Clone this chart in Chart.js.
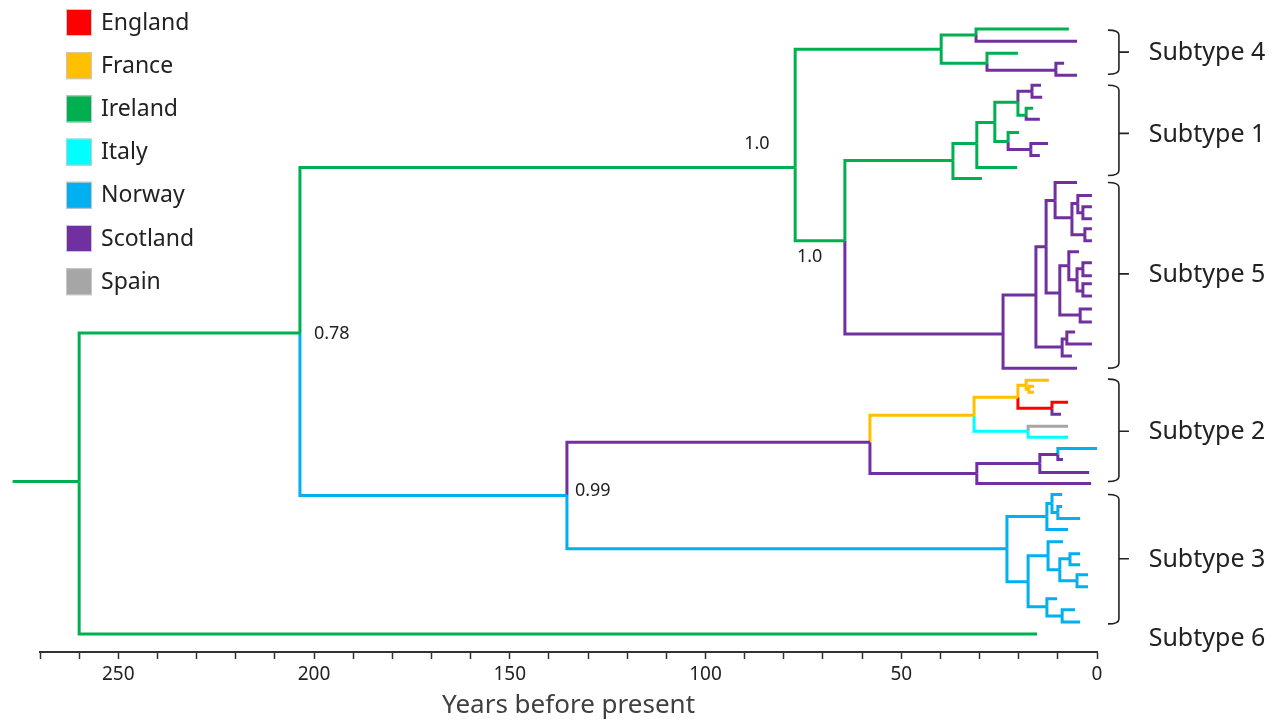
<!DOCTYPE html>
<html>
<head>
<meta charset="utf-8">
<script src="https://cdn.jsdelivr.net/npm/chart.js@4/dist/chart.umd.min.js"></script>
<style>
  html, body { margin: 0; padding: 0; background: #fff; }
  #wrap { width: 1279px; height: 721px; position: relative; }
</style>
</head>
<body>
<div id="wrap"><canvas id="tree"></canvas></div>
<script>
// countries and their colours (legend order)
const countries = ['England', 'France', 'Ireland', 'Italy', 'Norway', 'Scotland', 'Spain'];
const countryColors = ['#ff0000', '#ffc000', '#00b050', '#00ffff', '#00b0f0', '#7030a0', '#a6a6a6'];

// tree nodes: [id, parent, years before present, row, country]
const backbone = [
  ['origin', null, 277, 480, 'Ireland'],
  ['root', 'origin', 260, 480, 'Ireland'],
  ['n078', 'root', 203.6, 332, 'Ireland'],
  ['sub6', 'root', 15.3, 632, 'Ireland'],
  ['n10a', 'n078', 77.1, 167, 'Ireland'],
  ['n099', 'n078', 135.4, 494, 'Norway'],
  ['s4', 'n10a', 39.8, 49, 'Ireland'],
  ['n10b', 'n10a', 64.4, 240, 'Ireland'],
  ['s1', 'n10b', 36.8, 160, 'Ireland'],
  ['s5', 'n10b', 24.0, 333, 'Scotland'],
  ['s2', 'n099', 58.0, 441, 'Scotland'],
  ['s3', 'n099', 23.0, 547, 'Norway']
];

const subtype4 = [
  ['a1', 's4', 30.9, 35, 'Ireland'],
  ['a1t1', 'a1', 7.2, 29, 'Ireland'],
  ['a1t2', 'a1', 5.1, 41, 'Scotland'],
  ['a2', 's4', 28.1, 63, 'Ireland'],
  ['a2t1', 'a2', 20.2, 53, 'Ireland'],
  ['a3', 'a2', 10.5, 70, 'Scotland'],
  ['a3t1', 'a3', 8.4, 63, 'Scotland'],
  ['a3t2', 'a3', 5.1, 75, 'Scotland']
];

const subtype1 = [
  ['b0t', 's1', 29.4, 178, 'Ireland'],
  ['b1', 's1', 30.7, 143, 'Ireland'],
  ['b1t', 'b1', 20.4, 167, 'Ireland'],
  ['b2', 'b1', 26.1, 122, 'Ireland'],
  ['b3', 'b2', 20.2, 102, 'Ireland'],
  ['b4', 'b3', 16.6, 91, 'Scotland'],
  ['b4t1', 'b4', 14.3, 85, 'Scotland'],
  ['b4t2', 'b4', 14.0, 97, 'Scotland'],
  ['b5', 'b3', 18.1, 115, 'Ireland'],
  ['b5t1', 'b5', 16.3, 108, 'Ireland'],
  ['b5t2', 'b5', 14.6, 119, 'Scotland'],
  ['b6', 'b2', 22.7, 141, 'Ireland'],
  ['b6t', 'b6', 19.9, 132, 'Ireland'],
  ['b7', 'b6', 16.9, 149, 'Scotland'],
  ['b7t1', 'b7', 12.5, 143, 'Scotland'],
  ['b7t2', 'b7', 14.6, 155, 'Scotland']
];

const subtype5 = [
  ['c0t', 's5', 5.1, 367, 'Scotland'],
  ['c1', 's5', 15.6, 294, 'Scotland'],
  ['c2', 'c1', 13.0, 246, 'Scotland'],
  ['c3', 'c2', 10.7, 200, 'Scotland'],
  ['c3t', 'c3', 5.1, 182, 'Scotland'],
  ['c4', 'c3', 6.4, 217, 'Scotland'],
  ['c5', 'c4', 4.9, 203, 'Scotland'],
  ['c5t', 'c5', 1.3, 195, 'Scotland'],
  ['c6', 'c5', 3.6, 212, 'Scotland'],
  ['c6t1', 'c6', 1.3, 206, 'Scotland'],
  ['c6t2', 'c6', 1.3, 218, 'Scotland'],
  ['c7', 'c4', 3.1, 234, 'Scotland'],
  ['c7t1', 'c7', 1.3, 228, 'Scotland'],
  ['c7t2', 'c7', 1.3, 240, 'Scotland'],
  ['c8', 'c2', 9.5, 292, 'Scotland'],
  ['c9', 'c8', 7.2, 265, 'Scotland'],
  ['c9t', 'c9', 4.6, 251, 'Scotland'],
  ['c10', 'c9', 5.1, 279, 'Scotland'],
  ['c11', 'c10', 3.6, 268, 'Scotland'],
  ['c11t1', 'c11', 1.3, 262, 'Scotland'],
  ['c11t2', 'c11', 1.3, 275, 'Scotland'],
  ['c12', 'c10', 3.6, 290, 'Scotland'],
  ['c12t1', 'c12', 1.3, 283, 'Scotland'],
  ['c12t2', 'c12', 1.3, 295, 'Scotland'],
  ['c13', 'c8', 4.3, 314, 'Scotland'],
  ['c13t1', 'c13', 1.3, 308, 'Scotland'],
  ['c13t2', 'c13', 1.3, 321, 'Scotland'],
  ['c14', 'c1', 8.9, 346, 'Scotland'],
  ['c15', 'c14', 7.7, 338, 'Scotland'],
  ['c15t1', 'c15', 5.6, 331, 'Scotland'],
  ['c15t2', 'c15', 1.3, 343, 'Scotland'],
  ['c14t', 'c14', 6.4, 355, 'Scotland']
];

const subtype2 = [
  ['d1', 's2', 31.4, 414, 'France'],
  ['d2', 'd1', 20.2, 396, 'France'],
  ['d3', 'd2', 18.1, 384, 'France'],
  ['d3t', 'd3', 12.3, 379, 'France'],
  ['d4', 'd3', 17.4, 388, 'France'],
  ['d4t1', 'd4', 16.1, 385, 'France'],
  ['d4t2', 'd4', 16.1, 391, 'France'],
  ['d5', 'd2', 11.5, 407, 'England'],
  ['d5t1', 'd5', 7.4, 401, 'England'],
  ['d5t2', 'd5', 9.2, 413, 'Scotland'],
  ['d6', 'd1', 17.6, 430, 'Italy'],
  ['d6t1', 'd6', 7.4, 425, 'Spain'],
  ['d6t2', 'd6', 7.4, 436, 'Italy'],
  ['d7', 's2', 30.7, 472, 'Scotland'],
  ['d8', 'd7', 14.6, 462, 'Scotland'],
  ['d9', 'd8', 10.0, 453, 'Scotland'],
  ['d9t1', 'd9', 0, 447, 'Norway'],
  ['d9t2', 'd9', 8.7, 458, 'Scotland'],
  ['d8t', 'd8', 2.0, 471, 'Scotland'],
  ['d7t', 'd7', 1.5, 482, 'Scotland']
];

const subtype3 = [
  ['e1', 's3', 12.8, 515, 'Norway'],
  ['e2', 'e1', 11.5, 502, 'Norway'],
  ['e2t', 'e2', 8.9, 493, 'Norway'],
  ['e3', 'e2', 10.0, 511, 'Norway'],
  ['e3t1', 'e3', 8.9, 505, 'Norway'],
  ['e3t2', 'e3', 4.3, 517, 'Norway'],
  ['e1t', 'e1', 7.4, 528, 'Norway'],
  ['e4', 's3', 17.6, 580, 'Norway'],
  ['e5', 'e4', 12.5, 554, 'Norway'],
  ['e5t', 'e5', 8.7, 540, 'Norway'],
  ['e6', 'e5', 9.5, 568, 'Norway'],
  ['e7', 'e6', 6.9, 557, 'Norway'],
  ['e7t1', 'e7', 4.3, 552, 'Norway'],
  ['e7t2', 'e7', 4.3, 563, 'Norway'],
  ['e8', 'e6', 5.1, 579, 'Norway'],
  ['e8t1', 'e8', 2.3, 573, 'Norway'],
  ['e8t2', 'e8', 2.3, 585, 'Norway'],
  ['e9', 'e4', 12.8, 605, 'Norway'],
  ['e9t', 'e9', 10.2, 597, 'Norway'],
  ['e10', 'e9', 8.9, 614, 'Norway'],
  ['e10t1', 'e10', 5.6, 608, 'Norway'],
  ['e10t2', 'e10', 4.3, 620, 'Norway']
];

// posterior support labels
const supportNodes = ['n10a', 'n10b', 'n078', 'n099'];
const supportValues = ['1.0', '1.0', '0.78', '0.99'];

// subtype brackets (rows)
const subtypeNames = ['Subtype 4', 'Subtype 1', 'Subtype 5', 'Subtype 2', 'Subtype 3', 'Subtype 6'];
const subtypeTop = [30, 85, 182, 378, 493, null];
const subtypeBottom = [74, 175, 367, 480, 622, null];
const subtypeMid = [52, 133, 273, 430, 557, 636];

const FONT = "'Noto Sans', 'Open Sans', sans-serif";

const nodes = [...backbone, ...subtype4, ...subtype1, ...subtype5, ...subtype2, ...subtype3];
const byId = {};
nodes.forEach(n => { byId[n[0]] = n; });

// one dataset per branch: along the parent's vertical, then across to the child
const datasets = [];
nodes.forEach(n => {
  const p = byId[n[1]];
  if (!p) return;
  datasets.push({
    data: [
      { x: p[2], y: p[3] },
      { x: p[2], y: n[3] },
      { x: n[2], y: n[3] }
    ],
    borderColor: countryColors[countries.indexOf(n[4])],
    borderWidth: 3,
    borderJoinStyle: 'miter',
    showLine: true,
    pointRadius: 0,
    clip: false
  });
});

const extras = {
  id: 'extras',
  afterDraw(chart) {
    const ctx = chart.ctx;
    const xs = chart.scales.x, ys = chart.scales.y;
    ctx.save();

    // legend
    countries.forEach((c, i) => {
      const cy = 22 + i * 43.2;
      ctx.fillStyle = countryColors[i];
      ctx.fillRect(66, cy - 13, 26, 27);
      ctx.strokeStyle = '#c8c8c8';
      ctx.lineWidth = 1;
      ctx.strokeRect(66.5, cy - 12.5, 25, 26);
      ctx.fillStyle = '#222';
      ctx.font = '23px ' + FONT;
      ctx.textAlign = 'left';
      ctx.textBaseline = 'middle';
      ctx.fillText(c, 101, cy + 1);
    });

    // support values
    const offs = [[-51, -24], [-48, 16], [14, 1], [8, -5]];
    ctx.font = '18px ' + FONT;
    ctx.fillStyle = '#222';
    supportNodes.forEach((id, i) => {
      const n = byId[id];
      const px = xs.getPixelForValue(n[2]);
      const py = ys.getPixelForValue(n[3]);
      ctx.textAlign = 'left';
      ctx.textBaseline = 'middle';
      ctx.fillText(supportValues[i], px + offs[i][0], py + offs[i][1]);
    });

    // subtype brackets and labels
    const bx = xs.getPixelForValue(-5.6);
    const lx = xs.getPixelForValue(-13.2);
    ctx.strokeStyle = '#222';
    ctx.lineWidth = 1.6;
    subtypeNames.forEach((name, i) => {
      const my = ys.getPixelForValue(subtypeMid[i]);
      if (subtypeTop[i] !== null) {
        const ty = ys.getPixelForValue(subtypeTop[i]);
        const by = ys.getPixelForValue(subtypeBottom[i]);
        ctx.beginPath();
        ctx.moveTo(bx - 11, ty);
        ctx.quadraticCurveTo(bx, ty, bx, ty + 5);
        ctx.lineTo(bx, by - 5);
        ctx.quadraticCurveTo(bx, by, bx - 11, by);
        ctx.moveTo(bx, my);
        ctx.lineTo(bx + 10, my);
        ctx.stroke();
      }
      ctx.fillStyle = '#222';
      ctx.font = '25px ' + FONT;
      ctx.textAlign = 'left';
      ctx.textBaseline = 'middle';
      ctx.fillText(name, lx, my + 1);
    });
    ctx.restore();
  }
};

new Chart(document.getElementById('tree'), {
  type: 'scatter',
  data: { datasets: datasets },
  options: {
    responsive: true,
    maintainAspectRatio: false,
    animation: false,
    events: [],
    layout: { padding: { left: 40, right: 182, top: 0, bottom: 0 } },
    plugins: {
      legend: { display: false },
      tooltip: { enabled: false }
    },
    scales: {
      x: {
        type: 'linear',
        reverse: true,
        min: 0,
        max: 270,
        ticks: {
          stepSize: 10,
          autoSkip: false,
          maxRotation: 0,
          color: '#222',
          padding: 4,
          font: { family: FONT, size: 19 },
          callback: v => (v % 50 === 0 ? String(v) : '')
        },
        grid: { drawOnChartArea: false, drawTicks: true, tickLength: 7, tickColor: '#333', tickWidth: 1.5 },
        border: { display: true, color: '#333', width: 2 },
        title: {
          display: true,
          text: 'Years before present',
          color: '#404040',
          font: { family: FONT, size: 26 },
          padding: { top: 0, bottom: 0 }
        }
      },
      y: { type: 'linear', reverse: true, min: 0, max: 650, display: false }
    }
  },
  plugins: [extras]
});
</script>
</body>
</html>
